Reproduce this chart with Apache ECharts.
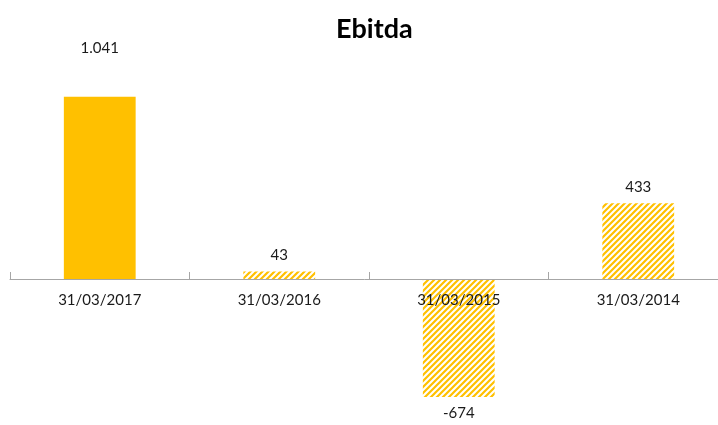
<!DOCTYPE html>
<html>
<head>
<meta charset="utf-8">
<script src="https://cdn.jsdelivr.net/npm/echarts@6/dist/echarts.min.js"></script>
<style>
  html, body { margin: 0; padding: 0; background: #fff; }
  #chart { width: 718px; height: 425px; }
</style>
</head>
<body>
<div id="chart"></div>
<script>
var categories = ['31/03/2017', '31/03/2016', '31/03/2015', '31/03/2014'];
var ebitda = [1041, 43, -674, 433];

// hatch pattern for the older years
function makeHatch() {
    var c = document.createElement('canvas');
    c.width = 6;
    c.height = 6;
    var ctx = c.getContext('2d');
    ctx.fillStyle = '#ffffff';
    ctx.fillRect(0, 0, 6, 6);
    ctx.strokeStyle = '#FFC000';
    ctx.lineWidth = 2.2;
    ctx.beginPath();
    ctx.moveTo(-1, 7); ctx.lineTo(7, -1);
    ctx.moveTo(-4, 4); ctx.lineTo(4, -4);
    ctx.moveTo(2, 10); ctx.lineTo(10, 2);
    ctx.stroke();
    return c;
}

function fmt(v) {
    var s = String(Math.abs(v)).replace(/\B(?=(\d{3})+(?!\d))/g, '.');
    return (v < 0 ? '-' : '') + s;
}

var chartDom = document.getElementById('chart');
var myChart = echarts.init(chartDom);
var hatch = { image: makeHatch(), repeat: 'repeat' };

var barData = ebitda.map(function (v, i) {
    return {
        value: v,
        itemStyle: { color: i === 0 ? '#FFC000' : hatch },
        label: {
            position: v < 0 ? 'bottom' : 'top',
            distance: i === 0 ? 41 : 9
        }
    };
});

var option = {
    animation: false,
    title: {
        text: 'Ebitda',
        left: 331,
        top: 11,
        textStyle: { fontFamily: 'Lato', fontWeight: 'bold', fontSize: 27, color: '#000' }
    },
    // axis sits at y=279, bottom of the grid; negative bar drawn below it
    grid: { left: 10, top: 69, width: 718, bottom: 146, outerBoundsMode: 'none' },
    xAxis: {
        type: 'category',
        data: categories,
        z: 5,
        axisLine: { onZero: false, lineStyle: { color: '#a6a6a6', width: 1 } },
        axisTick: { show: true, inside: true, length: 7, alignWithLabel: false, lineStyle: { color: '#a6a6a6' } },
        axisLabel: { margin: 14, fontFamily: 'Lato', fontSize: 15, color: '#1a1a1a' }
    },
    yAxis: {
        type: 'value',
        min: 0,
        max: 1200,
        show: false,
        splitLine: { show: false }
    },
    series: [{
        type: 'bar',
        data: barData,
        barWidth: '40%',
        clip: false,
        label: {
            show: true,
            fontFamily: 'Lato',
            fontSize: 15,
            color: '#1a1a1a',
            formatter: function (p) { return fmt(p.value); }
        }
    }]
};

option && myChart.setOption(option);
</script>
</body>
</html>
